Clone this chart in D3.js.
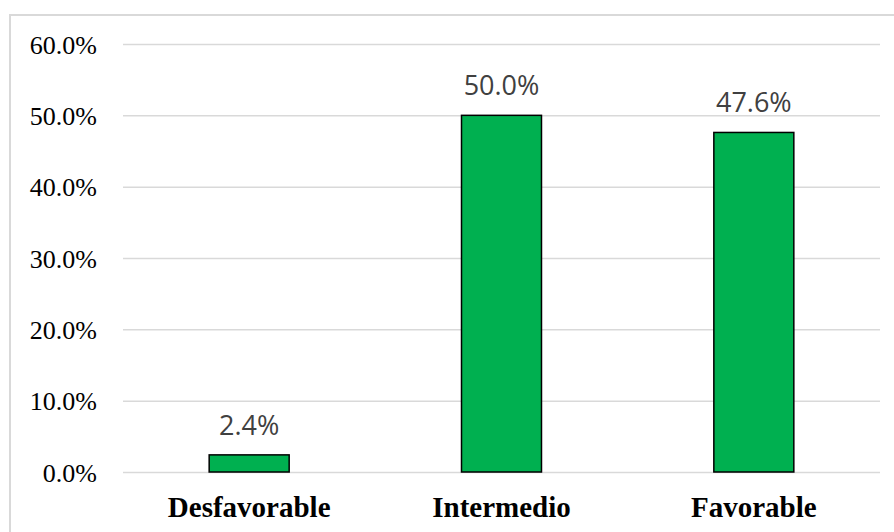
<!DOCTYPE html>
<html><head><meta charset="utf-8">
<script src="https://cdn.jsdelivr.net/npm/d3@7"></script>
<style>html,body{margin:0;padding:0;background:#fff;}</style>
</head><body>
<svg id="chart" width="894" height="532"></svg>
<script>
const categories = ["Desfavorable", "Intermedio", "Favorable"];
const values = [0.024, 0.500, 0.476];
const valueLabels = ["2.4%", "50.0%", "47.6%"];
const yTicks = [0, 0.1, 0.2, 0.3, 0.4, 0.5, 0.6];

(function () {
const svg = d3.select("#chart");
const W = 894, H = 532;
svg.append("rect").attr("width", W).attr("height", H).attr("fill", "#fff");
svg.append("rect").attr("x", 10).attr("y", 15).attr("width", W + 20).attr("height", H + 20)
  .attr("fill", "none").attr("stroke", "#d9d9d9").attr("stroke-width", 2);

const mLeft = 123, mRight = 880, mTop = 44, mBottom = 472;
const x = d3.scaleBand().domain(categories).range([mLeft, mRight]).paddingInner(0.683).paddingOuter(0.3415);
const y = d3.scaleLinear().domain([0, 0.6]).range([mBottom, mTop]);

const yAxis = d3.axisLeft(y).tickValues(yTicks).tickFormat(d3.format(".1%")).tickSize(-(mRight - mLeft)).tickPadding(26);
const ga = svg.append("g").attr("transform", `translate(${mLeft},0)`).call(yAxis);
ga.select(".domain").remove();
ga.selectAll(".tick line").attr("stroke", "#d9d9d9").attr("stroke-width", 1.5);
ga.selectAll(".tick text").attr("font-family", "'Liberation Serif','Times New Roman',serif")
  .attr("font-size", 26).attr("fill", "#000").attr("dy", "0.35em");

svg.selectAll("rect.bar").data(values).join("rect").attr("class", "bar")
  .attr("x", (d, i) => x(categories[i])).attr("width", x.bandwidth())
  .attr("y", d => y(d)).attr("height", d => y(0) - y(d))
  .attr("fill", "#00B050").attr("stroke", "#000").attr("stroke-width", 1.5);

svg.selectAll("text.val").data(values).join("text").attr("class", "val")
  .attr("x", (d, i) => x(categories[i]) + x.bandwidth() / 2).attr("y", d => y(d) - 20)
  .attr("text-anchor", "middle").attr("font-family", "'Open Sans',sans-serif")
  .attr("font-size", 27).attr("fill", "#404040").text((d, i) => valueLabels[i]);

const gx = svg.append("g").attr("transform", `translate(0,${mBottom})`)
  .call(d3.axisBottom(x).tickSize(0).tickPadding(0));
gx.select(".domain").remove();
gx.selectAll(".tick text").attr("y", 45).attr("dy", 0)
  .attr("font-family", "'Liberation Serif','Times New Roman',serif")
  .attr("font-size", 29).attr("font-weight", "bold").attr("fill", "#000");
})();
</script>
</body></html>
